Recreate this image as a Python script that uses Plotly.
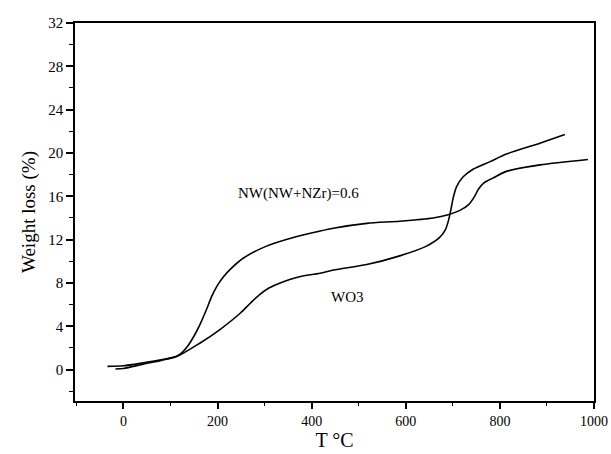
import plotly.graph_objects as go

# NW(NW+NZr)=0.6 curve
nw_T = [-34, 0, 42, 80, 113, 125, 137, 150, 163, 176, 188, 200, 213, 228, 255, 304, 361, 414,
        446, 517, 587, 658, 690, 715, 733, 745, 755, 765, 786, 814, 885, 987]
nw_W = [0.3, 0.35, 0.62, 0.9, 1.23, 1.6, 2.2, 3.1, 4.2, 5.5, 6.8, 7.8, 8.6, 9.3, 10.3, 11.4, 12.2, 12.75,
        13.05, 13.5, 13.7, 14.0, 14.3, 14.7, 15.2, 15.9, 16.7, 17.2, 17.7, 18.3, 18.9, 19.4]

# WO3 curve
wo_T = [-17, 0, 42, 80, 113, 163, 205, 248, 270, 290, 310, 333, 355, 376, 418, 446, 517, 587, 644,
        672, 684, 691, 696, 701, 708, 722, 743, 779, 814, 885, 938]
wo_W = [0.05, 0.1, 0.5, 0.85, 1.2, 2.46, 3.7, 5.2, 6.15, 6.95, 7.55, 8.0, 8.35, 8.6, 8.9, 9.2, 9.7, 10.5, 11.4,
        12.2, 12.9, 13.8, 14.8, 15.9, 16.9, 17.8, 18.5, 19.2, 19.9, 20.9, 21.7]

label_nw = "NW(NW+NZr)=0.6"
label_wo = "WO3"

FONT = "Times New Roman, Liberation Serif, serif"

fig = go.Figure()
fig.add_trace(go.Scatter(x=nw_T, y=nw_W, mode="lines",
                         line=dict(color="black", width=1.6, shape="spline", smoothing=0.8),
                         showlegend=False))
fig.add_trace(go.Scatter(x=wo_T, y=wo_W, mode="lines",
                         line=dict(color="black", width=1.6, shape="spline", smoothing=0.8),
                         showlegend=False))

fig.add_annotation(x=371, y=16.3, text=label_nw, showarrow=False,
                   font=dict(family=FONT, size=15, color="black"))
fig.add_annotation(x=477, y=6.7, text=label_wo, showarrow=False,
                   font=dict(family=FONT, size=15, color="black"))

fig.update_layout(
    width=611, height=454,
    margin=dict(l=75, r=17, t=23, b=53, autoexpand=False),
    paper_bgcolor="white", plot_bgcolor="white",
    font=dict(family=FONT, color="black"),
)
fig.update_xaxes(
    range=[-103, 1000], tick0=0, dtick=200, automargin=False,
    showgrid=False, zeroline=False,
    showline=True, linecolor="black", linewidth=1.5, mirror=True,
    ticks="outside", ticklen=6, tickwidth=1.5, tickcolor="black",
    minor=dict(dtick=100, tick0=0, ticks="outside", ticklen=3, tickwidth=1.2, tickcolor="black"),
    tickfont=dict(family=FONT, size=14, color="black"),
    title=dict(text="T °C", font=dict(family=FONT, size=20, color="black"), standoff=2),
)
fig.update_yaxes(
    range=[-2.9, 32], tick0=0, dtick=4, automargin=False,
    showgrid=False, zeroline=False,
    showline=True, linecolor="black", linewidth=1.5, mirror=True,
    ticks="outside", ticklen=7, tickwidth=1.5, tickcolor="black",
    minor=dict(dtick=2, tick0=0, ticks="outside", ticklen=4, tickwidth=1.2, tickcolor="black"),
    tickfont=dict(family=FONT, size=15, color="black"),
    title=dict(text="Weight loss (%)", font=dict(family=FONT, size=19, color="black"), standoff=8),
)

# remove the default page margin so the figure fills the window exactly
fig.write_html("out.html",
               config={"displayModeBar": False},
               post_script="document.body.style.margin='0px';document.body.style.overflow='hidden';")
